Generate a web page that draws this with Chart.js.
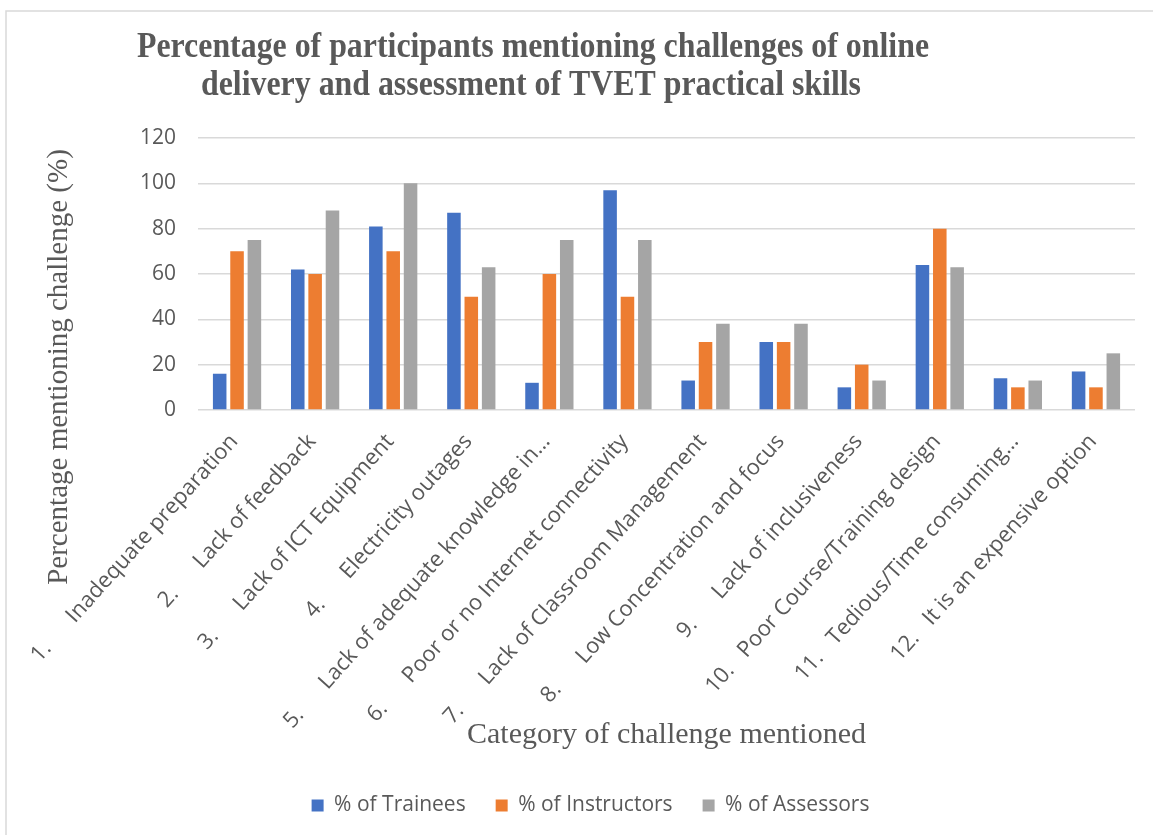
<!DOCTYPE html>
<html>
<head>
<meta charset="utf-8">
<script src="https://cdn.jsdelivr.net/npm/chart.js@4.4.1/dist/chart.umd.min.js"></script>
<style>
  html, body { margin: 0; padding: 0; background: #ffffff; }
  #wrap { position: relative; width: 1153px; height: 835px; }
</style>
</head>
<body>
<div id="wrap"><canvas id="chart" width="1153" height="835"></canvas></div>
<script>
// Challenge numbering and names (x-axis categories)
const itemNumbers = ['1.', '2.', '3.', '4.', '5.', '6.', '7.', '8.', '9.', '10.', '11.', '12.'];
const challengeNames = [
  'Inadequate preparation',
  'Lack of feedback',
  'Lack of ICT Equipment',
  'Electricity outages',
  'Lack of adequate knowledge in…',
  'Poor or no Internet connectivity',
  'Lack of Classroom Management',
  'Low Concentration and focus',
  'Lack of inclusiveness',
  'Poor Course/Training design',
  'Tedious/Time consuming…',
  'It is an expensive option'
];

// Percentage of each participant group mentioning the challenge
const trainees    = [16, 62, 81, 87, 12, 97, 13, 30, 10, 64, 14, 17];
const instructors = [70, 60, 70, 50, 60, 50, 30, 30, 20, 80, 10, 10];
const assessors   = [75, 88, 100, 63, 75, 75, 38, 38, 13, 63, 13, 25];

const seriesNames = ['% of Trainees', '% of Instructors', '% of Assessors'];

// Value axis range
const yMin = 0, yMax = 120, yStep = 20;

const chartTitle = ['Percentage of participants mentioning challenges of online',
                    'delivery and assessment of TVET practical skills'];
const yAxisTitle = 'Percentage mentioning challenge (%)';
const xAxisTitle = 'Category of challenge mentioned';

// number, tab-like gap, then the challenge name
const categories = itemNumbers.map((n, i) =>
  n + ' '.repeat(n.length > 2 ? 3 : 6) + challengeNames[i]);

const TEXT = '#595959';
const SANS = '"Open Sans", Lato, sans-serif';
const SERIF = '"Liberation Serif", "DejaVu Serif", serif';

// frame, chart title, rotated value-axis title, legend nudge
const decorations = {
  id: 'decorations',
  afterLayout(chart) {
    const lg = chart.legend;
    if (lg) { lg.left += 23; lg.right += 23; }
  },
  beforeDraw(chart) {
    const ctx = chart.ctx;
    ctx.save();
    ctx.strokeStyle = '#d9d9d9';
    ctx.lineWidth = 1.5;
    ctx.strokeRect(6, 11, 1200, 900);
    ctx.restore();
  },
  afterDraw(chart) {
    const ctx = chart.ctx;
    ctx.save();
    ctx.fillStyle = TEXT;
    ctx.textAlign = 'center';
    ctx.textBaseline = 'middle';
    ctx.font = 'bold 35px ' + SERIF;
    const centers = [[533, 48], [531, 86]];
    chartTitle.forEach((line, i) => {
      ctx.save();
      ctx.translate(centers[i][0], centers[i][1]);
      ctx.scale(0.91, 1);
      ctx.fillText(line, 0, 0);
      ctx.restore();
    });
    ctx.save();
    ctx.translate(59, 367);
    ctx.rotate(-Math.PI / 2);
    ctx.font = '29px ' + SERIF;
    ctx.fillText(yAxisTitle, 0, 0);
    ctx.restore();
    ctx.restore();
  }
};

new Chart(document.getElementById('chart'), {
  type: 'bar',
  data: {
    labels: categories,
    datasets: [
      { label: seriesNames[0], data: trainees,    backgroundColor: '#4472C4' },
      { label: seriesNames[1], data: instructors, backgroundColor: '#ED7D31' },
      { label: seriesNames[2], data: assessors,   backgroundColor: '#A5A5A5' }
    ]
  },
  options: {
    responsive: false,
    animation: false,
    devicePixelRatio: 1,
    layout: { padding: { left: 0, right: 18, top: 138, bottom: 9 } },
    datasets: { bar: { categoryPercentage: 0.667, barPercentage: 0.78 } },
    plugins: {
      title: { display: false },
      tooltip: { enabled: false },
      legend: {
        position: 'bottom',
        labels: {
          color: TEXT,
          font: { family: SANS, size: 21 },
          boxWidth: 12,
          boxHeight: 12,
          padding: 30
        }
      }
    },
    scales: {
      x: {
        grid: { display: false },
        border: { display: false },
        ticks: {
          color: TEXT,
          font: { family: SANS, size: 22 },
          autoSkip: false,
          minRotation: 48,
          maxRotation: 48,
          padding: 11,
          labelOffset: -3
        },
        title: {
          display: true,
          text: xAxisTitle,
          color: TEXT,
          font: { family: SERIF, size: 30 },
          padding: { top: 4, bottom: 12 }
        },
        afterFit(scale) { scale.height = 355; }
      },
      y: {
        min: yMin,
        max: yMax,
        border: { display: false },
        grid: { color: '#d9d9d9', lineWidth: 1.5, drawTicks: false },
        ticks: {
          stepSize: yStep,
          color: TEXT,
          font: { family: SANS, size: 21 },
          padding: 22
        },
        afterFit(scale) { scale.width = 198; }
      }
    }
  },
  plugins: [decorations]
});
</script>
</body>
</html>
